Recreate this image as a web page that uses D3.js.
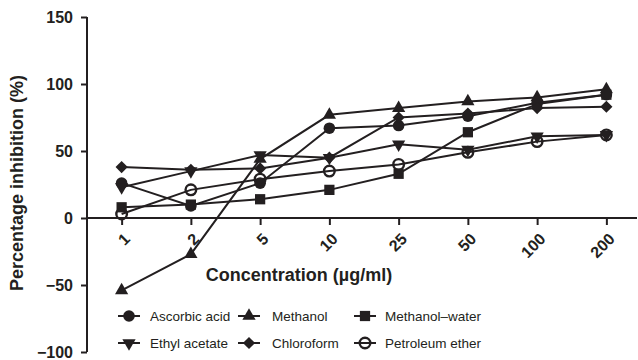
<!DOCTYPE html>
<html><head><meta charset="utf-8">
<script src="https://cdn.jsdelivr.net/npm/d3@7"></script>
<style>
body{margin:0;background:#fff;}
text{font-family:"Liberation Sans",Arial,sans-serif;fill:#231f20;}
</style></head>
<body><svg id="c" width="638" height="360"></svg>
<script>
const categories = ["1","2","5","10","25","50","100","200"];
const seriesNames = ["Ascorbic acid","Methanol","Methanol\u2013water","Ethyl acetate","Chloroform","Petroleum ether"];
const ascorbicAcid   = [26, 9, 26, 67, 69, 76, 86, 92];
const methanol       = [-54, -27, 44, 77, 82, 87, 90, 96];
const methanolWater  = [8, 10, 14, 21, 33, 64, 85, 92];
const ethylAcetate   = [23, 35, 47, 45, 55, 51, 61, 62];
const chloroform     = [38, 36, 37, 45, 75, 78, 82, 83];
const petroleumEther = [3, 21, 29, 35, 40, 49, 57, 62];
const yTicks = [-100, -50, 0, 50, 100, 150];
const xTitle = "Concentration (\u00b5g/ml)";
const yTitle = "Percentage inhibition (%)";

const seriesValues = [ascorbicAcid, methanol, methanolWater, ethylAcetate, chloroform, petroleumEther];
const markerTypes = ["circle","triUp","square","triDown","diamond","openCircle"];

const ink = "#231f20";
const svg = d3.select("#c");
const x = d3.scalePoint().domain(categories).range([87, 641]).padding(0.5);
const y = d3.scaleLinear().domain([-100, 150]).range([352, 17]);

function marker(g, type) {
  switch (type) {
    case "circle": g.append("circle").attr("r", 5.8).attr("fill", ink); break;
    case "openCircle": g.append("circle").attr("r", 5.3).attr("fill", "none").attr("stroke", ink).attr("stroke-width", 2.4); break;
    case "square": g.append("path").attr("d", d3.symbol(d3.symbolSquare, 105)()).attr("fill", ink); break;
    case "triUp": g.append("path").attr("d", d3.symbol(d3.symbolTriangle, 76)()).attr("fill", ink); break;
    case "triDown": g.append("path").attr("d", d3.symbol(d3.symbolTriangle, 76)()).attr("transform", "rotate(180)").attr("fill", ink); break;
    case "diamond": g.append("path").attr("d", d3.symbol(d3.symbolSquare, 74)()).attr("transform", "rotate(45)").attr("fill", ink); break;
  }
}

// axes
const yAxis = svg.append("g").attr("transform", "translate(87,0)")
  .call(d3.axisLeft(y).tickValues(yTicks).tickSize(6).tickPadding(8)
    .tickFormat(d => d < 0 ? "\u2212" + Math.abs(d) : d));
yAxis.select(".domain").attr("d", `M0,${y(150)}V${y(-100)}`).attr("stroke", ink).attr("stroke-width", 2);
yAxis.selectAll(".tick line").attr("stroke", ink).attr("stroke-width", 2);
yAxis.selectAll(".tick text").attr("font-size", 16).attr("font-weight", "bold").attr("fill", ink)
  .style("font-family", '"Liberation Sans",Arial,sans-serif');

const xAxis = svg.append("g").attr("transform", `translate(0,${y(0)})`)
  .call(d3.axisBottom(x).tickSize(7).tickSizeOuter(0));
xAxis.select(".domain").attr("d", "M87,0H637").attr("stroke", ink).attr("stroke-width", 2.2);
xAxis.selectAll(".tick line").attr("stroke", ink).attr("stroke-width", 2);
xAxis.selectAll(".tick text").attr("font-size", 16).attr("font-weight", "bold").attr("fill", ink)
  .style("font-family", '"Liberation Sans",Arial,sans-serif')
  .attr("text-anchor", "end").attr("dy", null).attr("y", 0)
  .attr("transform", "translate(9,22) rotate(-45)");

// titles
svg.append("text").attr("x", 299).attr("y", 281).attr("text-anchor", "middle")
  .attr("font-size", 18).attr("font-weight", "bold").text(xTitle);
svg.append("text").attr("transform", "translate(23,183) rotate(-90)").attr("text-anchor", "middle")
  .attr("font-size", 18).attr("font-weight", "bold").text(yTitle);

// series
const line = d3.line().x((d, i) => x(categories[i])).y(d => y(d));
seriesValues.forEach((vals) => {
  svg.append("path").attr("d", line(vals)).attr("fill", "none").attr("stroke", ink).attr("stroke-width", 2);
});
seriesValues.forEach((vals, si) => {
  vals.forEach((v, i) => {
    const g = svg.append("g").attr("transform", `translate(${x(categories[i])},${y(v)})`);
    marker(g, markerTypes[si]);
  });
});

// legend
const legCols = [{lx: 118, tx: 150}, {lx: 238, tx: 272}, {lx: 354, tx: 385}];
const legRows = [316, 343];
seriesNames.forEach((name, i) => {
  const c = legCols[i % 3], r = legRows[Math.floor(i / 3)];
  const g = svg.append("g");
  g.append("line").attr("x1", c.lx).attr("x2", c.lx + 22).attr("y1", r).attr("y2", r).attr("stroke", ink).attr("stroke-width", 2);
  const m = g.append("g").attr("transform", `translate(${c.lx + 11},${r})`);
  marker(m, markerTypes[i]);
  g.append("text").attr("x", c.tx).attr("y", r + 5).attr("font-size", 13.5).text(name);
});
</script></body></html>
